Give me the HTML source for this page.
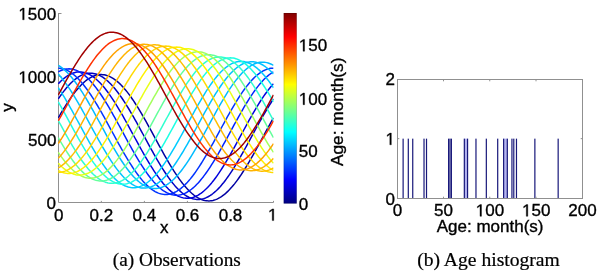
<!DOCTYPE html>
<html><head><meta charset="utf-8">
<style>
html,body{margin:0;padding:0;background:#fff;}
body{width:600px;height:273px;overflow:hidden;}
svg{display:block;will-change:transform;}
.t{font-family:"Liberation Sans",sans-serif;font-size:17px;fill:#000;stroke:#000;stroke-width:0.35px;}
.cap{font-family:"Liberation Serif",serif;font-size:18px;fill:#000;stroke:#000;stroke-width:0.2px;}
</style></head><body>
<svg width="600" height="273" viewBox="0 0 600 273">
<defs>
<linearGradient id="jet" x1="0" y1="0" x2="0" y2="1">
<stop offset="0.0000" stop-color="#800000"/>
<stop offset="0.0156" stop-color="#8f0000"/>
<stop offset="0.0312" stop-color="#9f0000"/>
<stop offset="0.0469" stop-color="#af0000"/>
<stop offset="0.0625" stop-color="#bf0000"/>
<stop offset="0.0781" stop-color="#cf0000"/>
<stop offset="0.0938" stop-color="#df0000"/>
<stop offset="0.1094" stop-color="#ef0000"/>
<stop offset="0.1250" stop-color="#ff0000"/>
<stop offset="0.1406" stop-color="#ff1000"/>
<stop offset="0.1562" stop-color="#ff2000"/>
<stop offset="0.1719" stop-color="#ff3000"/>
<stop offset="0.1875" stop-color="#ff4000"/>
<stop offset="0.2031" stop-color="#ff5000"/>
<stop offset="0.2188" stop-color="#ff6000"/>
<stop offset="0.2344" stop-color="#ff7000"/>
<stop offset="0.2500" stop-color="#ff8000"/>
<stop offset="0.2656" stop-color="#ff8f00"/>
<stop offset="0.2812" stop-color="#ff9f00"/>
<stop offset="0.2969" stop-color="#ffaf00"/>
<stop offset="0.3125" stop-color="#ffbf00"/>
<stop offset="0.3281" stop-color="#ffcf00"/>
<stop offset="0.3438" stop-color="#ffdf00"/>
<stop offset="0.3594" stop-color="#ffef00"/>
<stop offset="0.3750" stop-color="#ffff00"/>
<stop offset="0.3906" stop-color="#efff10"/>
<stop offset="0.4062" stop-color="#dfff20"/>
<stop offset="0.4219" stop-color="#cfff30"/>
<stop offset="0.4375" stop-color="#bfff40"/>
<stop offset="0.4531" stop-color="#afff50"/>
<stop offset="0.4688" stop-color="#9fff60"/>
<stop offset="0.4844" stop-color="#8fff70"/>
<stop offset="0.5000" stop-color="#80ff80"/>
<stop offset="0.5156" stop-color="#70ff8f"/>
<stop offset="0.5312" stop-color="#60ff9f"/>
<stop offset="0.5469" stop-color="#50ffaf"/>
<stop offset="0.5625" stop-color="#40ffbf"/>
<stop offset="0.5781" stop-color="#30ffcf"/>
<stop offset="0.5938" stop-color="#20ffdf"/>
<stop offset="0.6094" stop-color="#10ffef"/>
<stop offset="0.6250" stop-color="#00ffff"/>
<stop offset="0.6406" stop-color="#00efff"/>
<stop offset="0.6562" stop-color="#00dfff"/>
<stop offset="0.6719" stop-color="#00cfff"/>
<stop offset="0.6875" stop-color="#00bfff"/>
<stop offset="0.7031" stop-color="#00afff"/>
<stop offset="0.7188" stop-color="#009fff"/>
<stop offset="0.7344" stop-color="#008fff"/>
<stop offset="0.7500" stop-color="#0080ff"/>
<stop offset="0.7656" stop-color="#0070ff"/>
<stop offset="0.7812" stop-color="#0060ff"/>
<stop offset="0.7969" stop-color="#0050ff"/>
<stop offset="0.8125" stop-color="#0040ff"/>
<stop offset="0.8281" stop-color="#0030ff"/>
<stop offset="0.8438" stop-color="#0020ff"/>
<stop offset="0.8594" stop-color="#0010ff"/>
<stop offset="0.8750" stop-color="#0000ff"/>
<stop offset="0.8906" stop-color="#0000ef"/>
<stop offset="0.9062" stop-color="#0000df"/>
<stop offset="0.9219" stop-color="#0000cf"/>
<stop offset="0.9375" stop-color="#0000bf"/>
<stop offset="0.9531" stop-color="#0000af"/>
<stop offset="0.9688" stop-color="#00009f"/>
<stop offset="0.9844" stop-color="#00008f"/>
<stop offset="1.0000" stop-color="#000080"/>
</linearGradient>
<filter id="soft" x="-5%" y="-5%" width="110%" height="110%"><feGaussianBlur stdDeviation="0.35"/></filter>
<clipPath id="clipA"><rect x="58" y="0" width="215.6" height="210"/></clipPath>
</defs>
<rect width="600" height="273" fill="#fff"/>
<!-- left axes -->
<g stroke="#909090" stroke-width="1" fill="none">
<path d="M58.5,13 V202.5 H273.5"/>
<path d="M58.5,13.5 h3 M58.5,76.5 h3 M58.5,139.5 h3"/>
<path d="M101.34,202.5 v-1.6 M144.38,202.5 v-1.6 M187.42,202.5 v-1.6 M230.46,202.5 v-1.6 M273.5,202.5 v-1.6"/>
</g>
<!-- left plot curves -->
<g clip-path="url(#clipA)"><g fill="none" stroke-width="1.5" stroke-linejoin="round" filter="url(#soft)">
<polyline points="58.30,117.84 59.64,115.51 60.99,113.20 62.33,110.94 63.68,108.71 65.02,106.53 66.37,104.40 67.72,102.32 69.06,100.29 70.41,98.32 71.75,96.42 73.09,94.57 74.44,92.80 75.78,91.09 77.13,89.45 78.47,87.89 79.82,86.41 81.16,85.00 82.51,83.68 83.85,82.44 85.20,81.28 86.55,80.21 87.89,79.23 89.23,78.34 90.58,77.55 91.92,76.84 93.27,76.23 94.61,75.71 95.96,75.29 97.30,74.97 98.65,74.74 100.00,74.61 101.34,74.58 102.69,74.64 104.03,74.80 105.38,75.06 106.72,75.42 108.06,75.87 109.41,76.41 110.75,77.06 112.10,77.79 113.44,78.62 114.79,79.54 116.13,80.54 117.48,81.64 118.82,82.82 120.17,84.09 121.51,85.44 122.86,86.87 124.20,88.38 125.55,89.97 126.89,91.63 128.24,93.36 129.58,95.16 130.93,97.02 132.27,98.95 133.62,100.93 134.96,102.98 136.31,105.08 137.66,107.22 139.00,109.42 140.34,111.66 141.69,113.94 143.03,116.25 144.38,118.60 145.72,120.98 147.07,123.38 148.41,125.81 149.76,128.25 151.11,130.71 152.45,133.18 153.79,135.66 155.14,138.14 156.48,140.62 157.83,143.09 159.18,145.56 160.52,148.01 161.87,150.45 163.21,152.87 164.56,155.27 165.90,157.64 167.25,159.98 168.59,162.28 169.94,164.55 171.28,166.77 172.62,168.95 173.97,171.08 175.31,173.16 176.66,175.19 178.00,177.16 179.35,179.07 180.69,180.91 182.04,182.69 183.38,184.39 184.73,186.03 186.07,187.59 187.42,189.08 188.76,190.48 190.11,191.81 191.45,193.05 192.80,194.20 194.14,195.27 195.49,196.25 196.83,197.14 198.18,197.94 199.52,198.64 200.87,199.25 202.21,199.77 203.56,200.19 204.90,200.52 206.25,200.74 207.59,200.87 208.94,200.91 210.29,200.84 211.63,200.68 212.97,200.42 214.32,200.07 215.66,199.62 217.01,199.07 218.36,198.43 219.70,197.69 221.04,196.87 222.39,195.95 223.74,194.94 225.08,193.84 226.43,192.66 227.77,191.39 229.11,190.04 230.46,188.61 231.81,187.10 233.15,185.52 234.50,183.86 235.84,182.13 237.19,180.33 238.53,178.46 239.88,176.54 241.22,174.55 242.56,172.50 243.91,170.41 245.25,168.26 246.60,166.06 247.94,163.83 249.29,161.55 250.63,159.23 251.98,156.88 253.32,154.51 254.67,152.10 256.01,149.68 257.36,147.23 258.70,144.77 260.05,142.30 261.39,139.82 262.74,137.34 264.08,134.87 265.43,132.39 266.77,129.92 268.12,127.47 269.46,125.03 270.81,122.61 272.15,120.21 273.50,117.84" stroke="#0000a3"/>
<polyline points="58.30,98.88 59.64,96.91 60.99,95.00 62.33,93.16 63.68,91.38 65.02,89.67 66.37,88.04 67.72,86.48 69.06,84.99 70.41,83.59 71.75,82.26 73.09,81.02 74.44,79.87 75.78,78.80 77.13,77.82 78.47,76.93 79.82,76.13 81.16,75.42 82.51,74.81 83.85,74.30 85.20,73.88 86.55,73.55 87.89,73.32 89.23,73.19 90.58,73.16 91.92,73.23 93.27,73.39 94.61,73.65 95.96,74.00 97.30,74.45 98.65,75.00 100.00,75.64 101.34,76.38 102.69,77.20 104.03,78.12 105.38,79.13 106.72,80.23 108.06,81.41 109.41,82.68 110.75,84.03 112.10,85.46 113.44,86.97 114.79,88.55 116.13,90.21 117.48,91.94 118.82,93.74 120.17,95.61 121.51,97.53 122.86,99.52 124.20,101.56 125.55,103.66 126.89,105.81 128.24,108.00 129.58,110.24 130.93,112.52 132.27,114.84 133.62,117.18 134.96,119.56 136.31,121.97 137.66,124.39 139.00,126.84 140.34,129.30 141.69,131.77 143.03,134.24 144.38,136.72 145.72,139.20 147.07,141.68 148.41,144.15 149.76,146.60 151.11,149.04 152.45,151.46 153.79,153.85 155.14,156.22 156.48,158.56 157.83,160.87 159.18,163.13 160.52,165.36 161.87,167.54 163.21,169.67 164.56,171.75 165.90,173.78 167.25,175.74 168.59,177.65 169.94,179.49 171.28,181.27 172.62,182.98 173.97,184.62 175.31,186.18 176.66,187.66 178.00,189.07 179.35,190.39 180.69,191.63 182.04,192.79 183.38,193.86 184.73,194.84 186.07,195.73 187.42,196.52 188.76,197.23 190.11,197.84 191.45,198.36 192.80,198.78 194.14,199.10 195.49,199.33 196.83,199.46 198.18,199.49 199.52,199.43 200.87,199.27 202.21,199.01 203.56,198.65 204.90,198.20 206.25,197.65 207.59,197.01 208.94,196.28 210.29,195.45 211.63,194.53 212.97,193.52 214.32,192.43 215.66,191.24 217.01,189.98 218.36,188.63 219.70,187.20 221.04,185.69 222.39,184.10 223.74,182.44 225.08,180.71 226.43,178.91 227.77,177.05 229.11,175.12 230.46,173.13 231.81,171.09 233.15,168.99 234.50,166.84 235.84,164.65 237.19,162.41 238.53,160.13 239.88,157.82 241.22,155.47 242.56,153.09 243.91,150.69 245.25,148.26 246.60,145.82 247.94,143.36 249.29,140.89 250.63,138.41 251.98,135.93 253.32,133.45 254.67,130.98 256.01,128.51 257.36,126.05 258.70,123.61 260.05,121.20 261.39,118.80 262.74,116.43 264.08,114.09 265.43,111.79 266.77,109.52 268.12,107.30 269.46,105.12 270.81,102.98 272.15,100.90 273.50,98.88" stroke="#0000c3"/>
<polyline points="58.30,83.78 59.64,82.37 60.99,81.05 62.33,79.81 63.68,78.65 65.02,77.58 66.37,76.60 67.72,75.72 69.06,74.92 70.41,74.21 71.75,73.60 73.09,73.08 74.44,72.66 75.78,72.34 77.13,72.11 78.47,71.98 79.82,71.95 81.16,72.01 82.51,72.17 83.85,72.43 85.20,72.79 86.55,73.24 87.89,73.79 89.23,74.43 90.58,75.16 91.92,75.99 93.27,76.91 94.61,77.92 95.96,79.01 97.30,80.20 98.65,81.46 100.00,82.81 101.34,84.25 102.69,85.75 104.03,87.34 105.38,89.00 106.72,90.73 108.06,92.53 109.41,94.39 110.75,96.32 112.10,98.31 113.44,100.35 114.79,102.45 116.13,104.60 117.48,106.79 118.82,109.03 120.17,111.31 121.51,113.62 122.86,115.97 124.20,118.35 125.55,120.75 126.89,123.18 128.24,125.62 129.58,128.08 130.93,130.55 132.27,133.03 133.62,135.51 134.96,137.99 136.31,140.47 137.66,142.93 139.00,145.39 140.34,147.83 141.69,150.25 143.03,152.64 144.38,155.01 145.72,157.35 147.07,159.65 148.41,161.92 149.76,164.14 151.11,166.32 152.45,168.46 153.79,170.54 155.14,172.56 156.48,174.53 157.83,176.44 159.18,178.28 160.52,180.06 161.87,181.77 163.21,183.40 164.56,184.96 165.90,186.45 167.25,187.85 168.59,189.18 169.94,190.42 171.28,191.57 172.62,192.64 173.97,193.62 175.31,194.51 176.66,195.31 178.00,196.02 179.35,196.63 180.69,197.14 182.04,197.56 183.38,197.89 184.73,198.12 186.07,198.25 187.42,198.28 188.76,198.21 190.11,198.05 191.45,197.79 192.80,197.44 194.14,196.99 195.49,196.44 196.83,195.80 198.18,195.07 199.52,194.24 200.87,193.32 202.21,192.31 203.56,191.21 204.90,190.03 206.25,188.76 207.59,187.41 208.94,185.98 210.29,184.47 211.63,182.89 212.97,181.23 214.32,179.50 215.66,177.70 217.01,175.83 218.36,173.91 219.70,171.92 221.04,169.88 222.39,167.78 223.74,165.63 225.08,163.44 226.43,161.20 227.77,158.92 229.11,156.60 230.46,154.26 231.81,151.88 233.15,149.47 234.50,147.05 235.84,144.60 237.19,142.14 238.53,139.67 239.88,137.20 241.22,134.72 242.56,132.24 243.91,129.76 245.25,127.30 246.60,124.84 247.94,122.40 249.29,119.98 250.63,117.59 251.98,115.22 253.32,112.88 254.67,110.57 256.01,108.31 257.36,106.08 258.70,103.90 260.05,101.77 261.39,99.69 262.74,97.67 264.08,95.70 265.43,93.79 266.77,91.95 268.12,90.17 269.46,88.46 270.81,86.82 272.15,85.26 273.50,83.78" stroke="#0000de"/>
<polyline points="58.30,71.83 59.64,71.13 60.99,70.52 62.33,70.00 63.68,69.58 65.02,69.26 66.37,69.03 67.72,68.90 69.06,68.87 70.41,68.93 71.75,69.09 73.09,69.35 74.44,69.71 75.78,70.16 77.13,70.70 78.47,71.35 79.82,72.08 81.16,72.91 82.51,73.83 83.85,74.83 85.20,75.93 86.55,77.11 87.89,78.38 89.23,79.73 90.58,81.16 91.92,82.67 93.27,84.26 94.61,85.92 95.96,87.65 97.30,89.45 98.65,91.31 100.00,93.24 101.34,95.22 102.69,97.27 104.03,99.37 105.38,101.51 106.72,103.71 108.06,105.95 109.41,108.23 110.75,110.54 112.10,112.89 113.44,115.27 114.79,117.67 116.13,120.10 117.48,122.54 118.82,125.00 120.17,127.47 121.51,129.95 122.86,132.43 124.20,134.91 125.55,137.38 126.89,139.85 128.24,142.30 129.58,144.74 130.93,147.16 132.27,149.56 133.62,151.93 134.96,154.27 136.31,156.57 137.66,158.84 139.00,161.06 140.34,163.24 141.69,165.37 143.03,167.45 144.38,169.48 145.72,171.45 147.07,173.36 148.41,175.20 149.76,176.98 151.11,178.68 152.45,180.32 153.79,181.88 155.14,183.37 156.48,184.77 157.83,186.10 159.18,187.34 160.52,188.49 161.87,189.56 163.21,190.54 164.56,191.43 165.90,192.23 167.25,192.93 168.59,193.54 169.94,194.06 171.28,194.48 172.62,194.81 173.97,195.03 175.31,195.16 176.66,195.20 178.00,195.13 179.35,194.97 180.69,194.71 182.04,194.36 183.38,193.91 184.73,193.36 186.07,192.72 187.42,191.98 188.76,191.16 190.11,190.24 191.45,189.23 192.80,188.13 194.14,186.95 195.49,185.68 196.83,184.33 198.18,182.90 199.52,181.39 200.87,179.80 202.21,178.15 203.56,176.42 204.90,174.62 206.25,172.75 207.59,170.82 208.94,168.84 210.29,166.79 211.63,164.70 212.97,162.55 214.32,160.35 215.66,158.12 217.01,155.84 218.36,153.52 219.70,151.17 221.04,148.79 222.39,146.39 223.74,143.96 225.08,141.52 226.43,139.06 227.77,136.59 229.11,134.11 230.46,131.63 231.81,129.15 233.15,126.68 234.50,124.21 235.84,121.76 237.19,119.32 238.53,116.90 239.88,114.50 241.22,112.13 242.56,109.80 243.91,107.49 245.25,105.23 246.60,103.00 247.94,100.82 249.29,98.69 250.63,96.61 251.98,94.58 253.32,92.61 254.67,90.71 256.01,88.86 257.36,87.09 258.70,85.38 260.05,83.74 261.39,82.18 262.74,80.70 264.08,79.29 265.43,77.97 266.77,76.73 268.12,75.57 269.46,74.50 270.81,73.52 272.15,72.63 273.50,71.83" stroke="#0024ff"/>
<polyline points="58.30,68.18 59.64,68.25 60.99,68.41 62.33,68.67 63.68,69.02 65.02,69.47 66.37,70.02 67.72,70.66 69.06,71.40 70.41,72.23 71.75,73.14 73.09,74.15 74.44,75.25 75.78,76.43 77.13,77.70 78.47,79.05 79.82,80.48 81.16,81.99 82.51,83.58 83.85,85.23 85.20,86.97 86.55,88.76 87.89,90.63 89.23,92.56 90.58,94.54 91.92,96.59 93.27,98.68 94.61,100.83 95.96,103.03 97.30,105.26 98.65,107.54 100.00,109.86 101.34,112.21 102.69,114.59 104.03,116.99 105.38,119.42 106.72,121.86 108.06,124.32 109.41,126.79 110.75,129.27 112.10,131.75 113.44,134.23 114.79,136.70 116.13,139.17 117.48,141.62 118.82,144.06 120.17,146.48 121.51,148.88 122.86,151.25 124.20,153.58 125.55,155.89 126.89,158.15 128.24,160.38 129.58,162.56 130.93,164.69 132.27,166.77 133.62,168.80 134.96,170.77 136.31,172.67 137.66,174.52 139.00,176.29 140.34,178.00 141.69,179.64 143.03,181.20 144.38,182.68 145.72,184.09 147.07,185.41 148.41,186.65 149.76,187.81 151.11,188.88 152.45,189.86 153.79,190.75 155.14,191.55 156.48,192.25 157.83,192.86 159.18,193.38 160.52,193.80 161.87,194.12 163.21,194.35 164.56,194.48 165.90,194.51 167.25,194.45 168.59,194.29 169.94,194.03 171.28,193.67 172.62,193.22 173.97,192.68 175.31,192.04 176.66,191.30 178.00,190.47 179.35,189.55 180.69,188.55 182.04,187.45 183.38,186.27 184.73,185.00 186.07,183.65 187.42,182.22 188.76,180.71 190.11,179.12 191.45,177.46 192.80,175.73 194.14,173.93 195.49,172.07 196.83,170.14 198.18,168.16 199.52,166.11 200.87,164.01 202.21,161.87 203.56,159.67 204.90,157.43 206.25,155.15 207.59,152.84 208.94,150.49 210.29,148.11 211.63,145.71 212.97,143.28 214.32,140.84 215.66,138.38 217.01,135.91 218.36,133.43 219.70,130.95 221.04,128.47 222.39,126.00 223.74,123.53 225.08,121.08 226.43,118.64 227.77,116.22 229.11,113.82 230.46,111.45 231.81,109.11 233.15,106.81 234.50,104.54 235.84,102.32 237.19,100.14 238.53,98.01 239.88,95.93 241.22,93.90 242.56,91.93 243.91,90.02 245.25,88.18 246.60,86.40 247.94,84.70 249.29,83.06 250.63,81.50 251.98,80.01 253.32,78.61 254.67,77.28 256.01,76.04 257.36,74.89 258.70,73.82 260.05,72.84 261.39,71.95 262.74,71.15 264.08,70.45 265.43,69.84 266.77,69.32 268.12,68.90 269.46,68.57 270.81,68.35 272.15,68.22 273.50,68.18" stroke="#0034ff"/>
<polyline points="58.30,65.36 59.64,66.19 60.99,67.10 62.33,68.11 63.68,69.21 65.02,70.39 66.37,71.66 67.72,73.01 69.06,74.44 70.41,75.95 71.75,77.54 73.09,79.20 74.44,80.93 75.78,82.73 77.13,84.59 78.47,86.52 79.82,88.50 81.16,90.55 82.51,92.64 83.85,94.79 85.20,96.99 86.55,99.23 87.89,101.50 89.23,103.82 90.58,106.17 91.92,108.55 93.27,110.95 94.61,113.38 95.96,115.82 97.30,118.28 98.65,120.75 100.00,123.23 101.34,125.71 102.69,128.19 104.03,130.66 105.38,133.13 106.72,135.58 108.06,138.02 109.41,140.44 110.75,142.84 112.10,145.21 113.44,147.55 114.79,149.85 116.13,152.12 117.48,154.34 118.82,156.52 120.17,158.65 121.51,160.73 122.86,162.76 124.20,164.73 125.55,166.63 126.89,168.48 128.24,170.26 129.58,171.96 130.93,173.60 132.27,175.16 133.62,176.65 134.96,178.05 136.31,179.38 137.66,180.62 139.00,181.77 140.34,182.84 141.69,183.82 143.03,184.71 144.38,185.51 145.72,186.21 147.07,186.82 148.41,187.34 149.76,187.76 151.11,188.08 152.45,188.31 153.79,188.44 155.14,188.48 156.48,188.41 157.83,188.25 159.18,187.99 160.52,187.64 161.87,187.18 163.21,186.64 164.56,186.00 165.90,185.26 167.25,184.43 168.59,183.52 169.94,182.51 171.28,181.41 172.62,180.23 173.97,178.96 175.31,177.61 176.66,176.18 178.00,174.67 179.35,173.08 180.69,171.42 182.04,169.69 183.38,167.90 184.73,166.03 186.07,164.10 187.42,162.12 188.76,160.07 190.11,157.98 191.45,155.83 192.80,153.63 194.14,151.39 195.49,149.12 196.83,146.80 198.18,144.45 199.52,142.07 200.87,139.67 202.21,137.24 203.56,134.80 204.90,132.34 206.25,129.87 207.59,127.39 208.94,124.91 210.29,122.43 211.63,119.96 212.97,117.49 214.32,115.04 215.66,112.60 217.01,110.18 218.36,107.78 219.70,105.41 221.04,103.08 222.39,100.77 223.74,98.51 225.08,96.28 226.43,94.10 227.77,91.97 229.11,89.89 230.46,87.86 231.81,85.89 233.15,83.99 234.50,82.14 235.84,80.36 237.19,78.66 238.53,77.02 239.88,75.46 241.22,73.98 242.56,72.57 243.91,71.25 245.25,70.00 246.60,68.85 247.94,67.78 249.29,66.80 250.63,65.91 251.98,65.11 253.32,64.41 254.67,63.80 256.01,63.28 257.36,62.86 258.70,62.54 260.05,62.31 261.39,62.18 262.74,62.14 264.08,62.21 265.43,62.37 266.77,62.63 268.12,62.98 269.46,63.44 270.81,63.98 272.15,64.62 273.50,65.36" stroke="#00bbff"/>
<polyline points="58.30,74.06 59.64,75.57 60.99,77.16 62.33,78.82 63.68,80.55 65.02,82.35 66.37,84.21 67.72,86.14 69.06,88.12 70.41,90.17 71.75,92.27 73.09,94.41 74.44,96.61 75.78,98.85 77.13,101.13 78.47,103.44 79.82,105.79 81.16,108.17 82.51,110.57 83.85,113.00 85.20,115.44 86.55,117.90 87.89,120.37 89.23,122.85 90.58,125.33 91.92,127.81 93.27,130.28 94.61,132.75 95.96,135.20 97.30,137.64 98.65,140.06 100.00,142.46 101.34,144.83 102.69,147.17 104.03,149.47 105.38,151.74 106.72,153.96 108.06,156.14 109.41,158.27 110.75,160.35 112.10,162.38 113.44,164.35 114.79,166.26 116.13,168.10 117.48,169.88 118.82,171.58 120.17,173.22 121.51,174.78 122.86,176.27 124.20,177.67 125.55,179.00 126.89,180.24 128.24,181.39 129.58,182.46 130.93,183.44 132.27,184.33 133.62,185.13 134.96,185.83 136.31,186.44 137.66,186.96 139.00,187.38 140.34,187.71 141.69,187.93 143.03,188.06 144.38,188.10 145.72,188.03 147.07,187.87 148.41,187.61 149.76,187.26 151.11,186.81 152.45,186.26 153.79,185.62 155.14,184.88 156.48,184.06 157.83,183.14 159.18,182.13 160.52,181.03 161.87,179.85 163.21,178.58 164.56,177.23 165.90,175.80 167.25,174.29 168.59,172.70 169.94,171.05 171.28,169.32 172.62,167.52 173.97,165.65 175.31,163.72 176.66,161.74 178.00,159.69 179.35,157.60 180.69,155.45 182.04,153.25 183.38,151.02 184.73,148.74 186.07,146.42 187.42,144.07 188.76,141.69 190.11,139.29 191.45,136.87 192.80,134.42 194.14,131.96 195.49,129.49 196.83,127.01 198.18,124.53 199.52,122.05 200.87,119.58 202.21,117.11 203.56,114.66 204.90,112.22 206.25,109.80 207.59,107.40 208.94,105.03 210.29,102.70 211.63,100.39 212.97,98.13 214.32,95.90 215.66,93.72 217.01,91.59 218.36,89.51 219.70,87.48 221.04,85.51 222.39,83.61 223.74,81.76 225.08,79.99 226.43,78.28 227.77,76.64 229.11,75.08 230.46,73.60 231.81,72.19 233.15,70.87 234.50,69.63 235.84,68.47 237.19,67.40 238.53,66.42 239.88,65.53 241.22,64.73 242.56,64.03 243.91,63.42 245.25,62.90 246.60,62.48 247.94,62.16 249.29,61.93 250.63,61.80 251.98,61.77 253.32,61.83 254.67,61.99 256.01,62.25 257.36,62.61 258.70,63.06 260.05,63.60 261.39,64.25 262.74,64.98 264.08,65.81 265.43,66.73 266.77,67.73 268.12,68.83 269.46,70.01 270.81,71.28 272.15,72.63 273.50,74.06" stroke="#00c3ff"/>
<polyline points="58.30,87.75 59.64,89.79 60.99,91.89 62.33,94.03 63.68,96.23 65.02,98.47 66.37,100.75 67.72,103.06 69.06,105.41 70.41,107.79 71.75,110.19 73.09,112.62 74.44,115.06 75.78,117.52 77.13,119.99 78.47,122.47 79.82,124.95 81.16,127.43 82.51,129.90 83.85,132.37 85.20,134.83 86.55,137.26 87.89,139.68 89.23,142.08 90.58,144.45 91.92,146.79 93.27,149.09 94.61,151.36 95.96,153.58 97.30,155.76 98.65,157.89 100.00,159.98 101.34,162.00 102.69,163.97 104.03,165.88 105.38,167.72 106.72,169.50 108.06,171.21 109.41,172.84 110.75,174.40 112.10,175.89 113.44,177.29 114.79,178.62 116.13,179.86 117.48,181.01 118.82,182.08 120.17,183.06 121.51,183.95 122.86,184.75 124.20,185.45 125.55,186.07 126.89,186.58 128.24,187.00 129.58,187.33 130.93,187.55 132.27,187.68 133.62,187.72 134.96,187.65 136.31,187.49 137.66,187.23 139.00,186.88 140.34,186.43 141.69,185.88 143.03,185.24 144.38,184.50 145.72,183.68 147.07,182.76 148.41,181.75 149.76,180.65 151.11,179.47 152.45,178.20 153.79,176.85 155.14,175.42 156.48,173.91 157.83,172.33 159.18,170.67 160.52,168.94 161.87,167.14 163.21,165.27 164.56,163.35 165.90,161.36 167.25,159.32 168.59,157.22 169.94,155.07 171.28,152.88 172.62,150.64 173.97,148.36 175.31,146.04 176.66,143.69 178.00,141.32 179.35,138.91 180.69,136.49 182.04,134.04 183.38,131.58 184.73,129.11 186.07,126.64 187.42,124.16 188.76,121.68 190.11,119.20 191.45,116.73 192.80,114.28 194.14,111.84 195.49,109.42 196.83,107.02 198.18,104.66 199.52,102.32 200.87,100.01 202.21,97.75 203.56,95.52 204.90,93.34 206.25,91.21 207.59,89.13 208.94,87.10 210.29,85.14 211.63,83.23 212.97,81.38 214.32,79.61 215.66,77.90 217.01,76.26 218.36,74.70 219.70,73.22 221.04,71.81 222.39,70.49 223.74,69.25 225.08,68.09 226.43,67.02 227.77,66.04 229.11,65.15 230.46,64.36 231.81,63.65 233.15,63.04 234.50,62.52 235.84,62.10 237.19,61.78 238.53,61.55 239.88,61.42 241.22,61.39 242.56,61.45 243.91,61.61 245.25,61.87 246.60,62.23 247.94,62.68 249.29,63.22 250.63,63.87 251.98,64.60 253.32,65.43 254.67,66.35 256.01,67.36 257.36,68.45 258.70,69.63 260.05,70.90 261.39,72.25 262.74,73.68 264.08,75.19 265.43,76.78 266.77,78.44 268.12,80.17 269.46,81.97 270.81,83.83 272.15,85.76 273.50,87.75" stroke="#00ccff"/>
<polyline points="58.30,101.87 59.64,104.25 60.99,106.66 62.33,109.08 63.68,111.53 65.02,113.98 66.37,116.45 67.72,118.93 69.06,121.41 70.41,123.89 71.75,126.37 73.09,128.83 74.44,131.29 75.78,133.73 77.13,136.15 78.47,138.54 79.82,140.91 81.16,143.25 82.51,145.55 83.85,147.82 85.20,150.05 86.55,152.23 87.89,154.36 89.23,156.44 90.58,158.46 91.92,160.43 93.27,162.34 94.61,164.18 95.96,165.96 97.30,167.67 98.65,169.30 100.00,170.87 101.34,172.35 102.69,173.76 104.03,175.08 105.38,176.32 106.72,177.48 108.06,178.54 109.41,179.52 110.75,180.41 112.10,181.21 113.44,181.92 114.79,182.53 116.13,183.04 117.48,183.46 118.82,183.79 120.17,184.02 121.51,184.15 122.86,184.18 124.20,184.12 125.55,183.95 126.89,183.70 128.24,183.34 129.58,182.89 130.93,182.34 132.27,181.70 133.62,180.97 134.96,180.14 136.31,179.22 137.66,178.21 139.00,177.12 140.34,175.93 141.69,174.67 143.03,173.31 144.38,171.88 145.72,170.37 147.07,168.79 148.41,167.13 149.76,165.40 151.11,163.60 152.45,161.74 153.79,159.81 155.14,157.82 156.48,155.78 157.83,153.68 159.18,151.53 160.52,149.34 161.87,147.10 163.21,144.82 164.56,142.51 165.90,140.16 167.25,137.78 168.59,135.37 169.94,132.95 171.28,130.50 172.62,128.05 173.97,125.58 175.31,123.10 176.66,120.62 178.00,118.14 179.35,115.66 180.69,113.20 182.04,110.74 183.38,108.30 184.73,105.88 186.07,103.49 187.42,101.12 188.76,98.78 190.11,96.48 191.45,94.21 192.80,91.98 194.14,89.80 195.49,87.67 196.83,85.59 198.18,83.57 199.52,81.60 200.87,79.69 202.21,77.85 203.56,76.07 204.90,74.36 206.25,72.73 207.59,71.16 208.94,69.68 210.29,68.27 211.63,66.95 212.97,65.71 214.32,64.55 215.66,63.49 217.01,62.51 218.36,61.62 219.70,60.82 221.04,60.11 222.39,59.50 223.74,58.99 225.08,58.57 226.43,58.24 227.77,58.01 229.11,57.88 230.46,57.85 231.81,57.91 233.15,58.08 234.50,58.33 235.84,58.69 237.19,59.14 238.53,59.69 239.88,60.33 241.22,61.06 242.56,61.89 243.91,62.81 245.25,63.82 246.60,64.91 247.94,66.10 249.29,67.36 250.63,68.72 251.98,70.15 253.32,71.66 254.67,73.24 256.01,74.90 257.36,76.63 258.70,78.43 260.05,80.29 261.39,82.22 262.74,84.21 264.08,86.25 265.43,88.35 266.77,90.50 268.12,92.69 269.46,94.93 270.81,97.21 272.15,99.52 273.50,101.87" stroke="#1cffe3"/>
<polyline points="58.30,120.53 59.64,123.01 60.99,125.48 62.33,127.95 63.68,130.40 65.02,132.84 66.37,135.26 67.72,137.66 69.06,140.03 70.41,142.37 71.75,144.67 73.09,146.94 74.44,149.16 75.78,151.34 77.13,153.47 78.47,155.55 79.82,157.58 81.16,159.55 82.51,161.46 83.85,163.30 85.20,165.08 86.55,166.78 87.89,168.42 89.23,169.98 90.58,171.47 91.92,172.87 93.27,174.20 94.61,175.44 95.96,176.59 97.30,177.66 98.65,178.64 100.00,179.53 101.34,180.33 102.69,181.03 104.03,181.64 105.38,182.16 106.72,182.58 108.06,182.90 109.41,183.13 110.75,183.26 112.10,183.30 113.44,183.23 114.79,183.07 116.13,182.81 117.48,182.46 118.82,182.00 120.17,181.46 121.51,180.82 122.86,180.08 124.20,179.25 125.55,178.34 126.89,177.33 128.24,176.23 129.58,175.05 130.93,173.78 132.27,172.43 133.62,171.00 134.96,169.49 136.31,167.90 137.66,166.25 139.00,164.51 140.34,162.72 141.69,160.85 143.03,158.92 144.38,156.94 145.72,154.89 147.07,152.80 148.41,150.65 149.76,148.45 151.11,146.22 152.45,143.94 153.79,141.62 155.14,139.27 156.48,136.89 157.83,134.49 159.18,132.06 160.52,129.62 161.87,127.16 163.21,124.69 164.56,122.21 165.90,119.73 167.25,117.25 168.59,114.78 169.94,112.31 171.28,109.86 172.62,107.42 173.97,105.00 175.31,102.60 176.66,100.23 178.00,97.90 179.35,95.59 180.69,93.33 182.04,91.10 183.38,88.92 184.73,86.79 186.07,84.71 187.42,82.68 188.76,80.71 190.11,78.81 191.45,76.96 192.80,75.19 194.14,73.48 195.49,71.84 196.83,70.28 198.18,68.80 199.52,67.39 200.87,66.07 202.21,64.83 203.56,63.67 204.90,62.60 206.25,61.62 207.59,60.73 208.94,59.93 210.29,59.23 211.63,58.62 212.97,58.10 214.32,57.68 215.66,57.36 217.01,57.13 218.36,57.00 219.70,56.97 221.04,57.03 222.39,57.19 223.74,57.45 225.08,57.81 226.43,58.26 227.77,58.80 229.11,59.44 230.46,60.18 231.81,61.01 233.15,61.93 234.50,62.93 235.84,64.03 237.19,65.21 238.53,66.48 239.88,67.83 241.22,69.26 242.56,70.77 243.91,72.36 245.25,74.02 246.60,75.75 247.94,77.55 249.29,79.41 250.63,81.34 251.98,83.32 253.32,85.37 254.67,87.47 256.01,89.61 257.36,91.81 258.70,94.05 260.05,96.32 261.39,98.64 262.74,100.99 264.08,103.37 265.43,105.77 266.77,108.20 268.12,110.64 269.46,113.10 270.81,115.57 272.15,118.05 273.50,120.53" stroke="#30ffcf"/>
<polyline points="58.30,137.73 59.64,140.07 60.99,142.37 62.33,144.64 63.68,146.86 65.02,149.04 66.37,151.17 67.72,153.25 69.06,155.28 70.41,157.25 71.75,159.16 73.09,161.00 74.44,162.78 75.78,164.48 77.13,166.12 78.47,167.68 79.82,169.17 81.16,170.57 82.51,171.90 83.85,173.14 85.20,174.29 86.55,175.36 87.89,176.34 89.23,177.23 90.58,178.03 91.92,178.73 93.27,179.34 94.61,179.86 95.96,180.28 97.30,180.61 98.65,180.83 100.00,180.96 101.34,181.00 102.69,180.93 104.03,180.77 105.38,180.51 106.72,180.16 108.06,179.71 109.41,179.16 110.75,178.52 112.10,177.78 113.44,176.96 114.79,176.04 116.13,175.03 117.48,173.93 118.82,172.75 120.17,171.48 121.51,170.13 122.86,168.70 124.20,167.19 125.55,165.61 126.89,163.95 128.24,162.22 129.58,160.42 130.93,158.55 132.27,156.63 133.62,154.64 134.96,152.59 136.31,150.50 137.66,148.35 139.00,146.15 140.34,143.92 141.69,141.64 143.03,139.32 144.38,136.97 145.72,134.60 147.07,132.19 148.41,129.77 149.76,127.32 151.11,124.86 152.45,122.39 153.79,119.91 155.14,117.43 156.48,114.95 157.83,112.48 159.18,110.01 160.52,107.56 161.87,105.12 163.21,102.70 164.56,100.30 165.90,97.93 167.25,95.60 168.59,93.29 169.94,91.03 171.28,88.80 172.62,86.62 173.97,84.49 175.31,82.41 176.66,80.38 178.00,78.41 179.35,76.51 180.69,74.66 182.04,72.89 183.38,71.18 184.73,69.54 186.07,67.98 187.42,66.50 188.76,65.09 190.11,63.77 191.45,62.53 192.80,61.37 194.14,60.30 195.49,59.32 196.83,58.43 198.18,57.63 199.52,56.93 200.87,56.32 202.21,55.80 203.56,55.38 204.90,55.06 206.25,54.83 207.59,54.70 208.94,54.67 210.29,54.73 211.63,54.89 212.97,55.15 214.32,55.51 215.66,55.96 217.01,56.50 218.36,57.15 219.70,57.88 221.04,58.71 222.39,59.63 223.74,60.63 225.08,61.73 226.43,62.91 227.77,64.18 229.11,65.53 230.46,66.96 231.81,68.47 233.15,70.06 234.50,71.72 235.84,73.45 237.19,75.25 238.53,77.11 239.88,79.04 241.22,81.02 242.56,83.07 243.91,85.17 245.25,87.31 246.60,89.51 247.94,91.75 249.29,94.03 250.63,96.34 251.98,98.69 253.32,101.07 254.67,103.47 256.01,105.90 257.36,108.34 258.70,110.80 260.05,113.27 261.39,115.75 262.74,118.23 264.08,120.71 265.43,123.18 266.77,125.65 268.12,128.10 269.46,130.54 270.81,132.96 272.15,135.36 273.50,137.73" stroke="#64ff9b"/>
<polyline points="58.30,152.45 59.64,154.42 60.99,156.33 62.33,158.17 63.68,159.95 65.02,161.65 66.37,163.29 67.72,164.85 69.06,166.34 70.41,167.74 71.75,169.07 73.09,170.31 74.44,171.46 75.78,172.53 77.13,173.51 78.47,174.40 79.82,175.20 81.16,175.90 82.51,176.51 83.85,177.03 85.20,177.45 86.55,177.78 87.89,178.00 89.23,178.13 90.58,178.17 91.92,178.10 93.27,177.94 94.61,177.68 95.96,177.33 97.30,176.88 98.65,176.33 100.00,175.69 101.34,174.95 102.69,174.13 104.03,173.21 105.38,172.20 106.72,171.10 108.06,169.92 109.41,168.65 110.75,167.30 112.10,165.87 113.44,164.36 114.79,162.78 116.13,161.12 117.48,159.39 118.82,157.59 120.17,155.72 121.51,153.80 122.86,151.81 124.20,149.76 125.55,147.67 126.89,145.52 128.24,143.32 129.58,141.09 130.93,138.81 132.27,136.49 133.62,134.14 134.96,131.77 136.31,129.36 137.66,126.94 139.00,124.49 140.34,122.03 141.69,119.56 143.03,117.08 144.38,114.60 145.72,112.13 147.07,109.65 148.41,107.18 149.76,104.73 151.11,102.29 152.45,99.87 153.79,97.47 155.14,95.10 156.48,92.77 157.83,90.46 159.18,88.20 160.52,85.97 161.87,83.79 163.21,81.66 164.56,79.58 165.90,77.55 167.25,75.58 168.59,73.68 169.94,71.83 171.28,70.06 172.62,68.35 173.97,66.71 175.31,65.15 176.66,63.67 178.00,62.26 179.35,60.94 180.69,59.70 182.04,58.54 183.38,57.47 184.73,56.49 186.07,55.60 187.42,54.81 188.76,54.10 190.11,53.49 191.45,52.97 192.80,52.55 194.14,52.23 195.49,52.00 196.83,51.87 198.18,51.84 199.52,51.90 200.87,52.06 202.21,52.32 203.56,52.68 204.90,53.13 206.25,53.67 207.59,54.32 208.94,55.05 210.29,55.88 211.63,56.80 212.97,57.80 214.32,58.90 215.66,60.08 217.01,61.35 218.36,62.70 219.70,64.13 221.04,65.64 222.39,67.23 223.74,68.89 225.08,70.62 226.43,72.42 227.77,74.28 229.11,76.21 230.46,78.19 231.81,80.24 233.15,82.34 234.50,84.48 235.84,86.68 237.19,88.92 238.53,91.20 239.88,93.51 241.22,95.86 242.56,98.24 243.91,100.64 245.25,103.07 246.60,105.51 247.94,107.97 249.29,110.44 250.63,112.92 251.98,115.40 253.32,117.88 254.67,120.35 256.01,122.82 257.36,125.27 258.70,127.71 260.05,130.13 261.39,132.53 262.74,134.90 264.08,137.24 265.43,139.54 266.77,141.81 268.12,144.03 269.46,146.21 270.81,148.34 272.15,150.42 273.50,152.45" stroke="#a3ff5c"/>
<polyline points="58.30,163.23 59.64,164.63 60.99,165.96 62.33,167.20 63.68,168.35 65.02,169.42 66.37,170.40 67.72,171.29 69.06,172.09 70.41,172.80 71.75,173.41 73.09,173.92 74.44,174.34 75.78,174.67 77.13,174.90 78.47,175.03 79.82,175.06 81.16,174.99 82.51,174.83 83.85,174.57 85.20,174.22 86.55,173.77 87.89,173.22 89.23,172.58 90.58,171.84 91.92,171.02 93.27,170.10 94.61,169.09 95.96,167.99 97.30,166.81 98.65,165.54 100.00,164.19 101.34,162.76 102.69,161.25 104.03,159.67 105.38,158.01 106.72,156.28 108.06,154.48 109.41,152.61 110.75,150.69 112.10,148.70 113.44,146.66 114.79,144.56 116.13,142.41 117.48,140.22 118.82,137.98 120.17,135.70 121.51,133.38 122.86,131.04 124.20,128.66 125.55,126.25 126.89,123.83 128.24,121.38 129.58,118.92 130.93,116.45 132.27,113.98 133.62,111.50 134.96,109.02 136.31,106.54 137.66,104.08 139.00,101.62 140.34,99.18 141.69,96.76 143.03,94.37 144.38,92.00 145.72,89.66 147.07,87.35 148.41,85.09 149.76,82.86 151.11,80.68 152.45,78.55 153.79,76.47 155.14,74.44 156.48,72.48 157.83,70.57 159.18,68.73 160.52,66.95 161.87,65.24 163.21,63.60 164.56,62.04 165.90,60.56 167.25,59.15 168.59,57.83 169.94,56.59 171.28,55.43 172.62,54.36 173.97,53.38 175.31,52.50 176.66,51.70 178.00,50.99 179.35,50.38 180.69,49.86 182.04,49.44 183.38,49.12 184.73,48.89 186.07,48.76 187.42,48.73 188.76,48.79 190.11,48.95 191.45,49.21 192.80,49.57 194.14,50.02 195.49,50.57 196.83,51.21 198.18,51.94 199.52,52.77 200.87,53.69 202.21,54.70 203.56,55.79 204.90,56.98 206.25,58.24 207.59,59.59 208.94,61.03 210.29,62.53 211.63,64.12 212.97,65.78 214.32,67.51 215.66,69.31 217.01,71.17 218.36,73.10 219.70,75.09 221.04,77.13 222.39,79.23 223.74,81.38 225.08,83.57 226.43,85.81 227.77,88.09 229.11,90.40 230.46,92.75 231.81,95.13 233.15,97.53 234.50,99.96 235.84,102.40 237.19,104.86 238.53,107.33 239.88,109.81 241.22,112.29 242.56,114.77 243.91,117.25 245.25,119.71 246.60,122.17 247.94,124.61 249.29,127.03 250.63,129.42 251.98,131.79 253.32,134.13 254.67,136.43 256.01,138.70 257.36,140.92 258.70,143.10 260.05,145.24 261.39,147.32 262.74,149.34 264.08,151.31 265.43,153.22 266.77,155.06 268.12,156.84 269.46,158.55 270.81,160.18 272.15,161.74 273.50,163.23" stroke="#e9ff16"/>
<polyline points="58.30,170.47 59.64,171.18 60.99,171.79 62.33,172.31 63.68,172.73 65.02,173.05 66.37,173.28 67.72,173.41 69.06,173.44 70.41,173.38 71.75,173.22 73.09,172.96 74.44,172.60 75.78,172.15 77.13,171.60 78.47,170.96 79.82,170.23 81.16,169.40 82.51,168.48 83.85,167.47 85.20,166.38 86.55,165.19 87.89,163.93 89.23,162.58 90.58,161.15 91.92,159.64 93.27,158.05 94.61,156.39 95.96,154.66 97.30,152.86 98.65,151.00 100.00,149.07 101.34,147.08 102.69,145.04 104.03,142.94 105.38,140.79 106.72,138.60 108.06,136.36 109.41,134.08 110.75,131.77 112.10,129.42 113.44,127.04 114.79,124.64 116.13,122.21 117.48,119.77 118.82,117.31 120.17,114.84 121.51,112.36 122.86,109.88 124.20,107.40 125.55,104.93 126.89,102.46 128.24,100.00 129.58,97.56 130.93,95.15 132.27,92.75 133.62,90.38 134.96,88.04 136.31,85.74 137.66,83.47 139.00,81.25 140.34,79.07 141.69,76.93 143.03,74.85 144.38,72.83 145.72,70.86 147.07,68.95 148.41,67.11 149.76,65.33 151.11,63.62 152.45,61.99 153.79,60.43 155.14,58.94 156.48,57.54 157.83,56.21 159.18,54.97 160.52,53.82 161.87,52.75 163.21,51.77 164.56,50.88 165.90,50.08 167.25,49.38 168.59,48.76 169.94,48.25 171.28,47.83 172.62,47.50 173.97,47.27 175.31,47.14 176.66,47.11 178.00,47.18 179.35,47.34 180.69,47.60 182.04,47.95 183.38,48.40 184.73,48.95 186.07,49.59 187.42,50.33 188.76,51.15 190.11,52.07 191.45,53.08 192.80,54.18 194.14,55.36 195.49,56.63 196.83,57.98 198.18,59.41 199.52,60.92 200.87,62.50 202.21,64.16 203.56,65.89 204.90,67.69 206.25,69.56 207.59,71.48 208.94,73.47 210.29,75.51 211.63,77.61 212.97,79.76 214.32,81.95 215.66,84.19 217.01,86.47 218.36,88.79 219.70,91.13 221.04,93.51 222.39,95.92 223.74,98.34 225.08,100.79 226.43,103.25 227.77,105.72 229.11,108.19 230.46,110.67 231.81,113.15 233.15,115.63 234.50,118.10 235.84,120.55 237.19,122.99 238.53,125.41 239.88,127.80 241.22,130.17 242.56,132.51 243.91,134.82 245.25,137.08 246.60,139.31 247.94,141.49 249.29,143.62 250.63,145.70 251.98,147.73 253.32,149.69 254.67,151.60 256.01,153.44 257.36,155.22 258.70,156.93 260.05,158.57 261.39,160.13 262.74,161.61 264.08,163.02 265.43,164.34 266.77,165.58 268.12,166.74 269.46,167.81 270.81,168.79 272.15,169.68 273.50,170.47" stroke="#fff100"/>
<polyline points="58.30,172.43 59.64,172.37 60.99,172.21 62.33,171.95 63.68,171.59 65.02,171.14 66.37,170.59 67.72,169.95 69.06,169.22 70.41,168.39 71.75,167.47 73.09,166.46 74.44,165.37 75.78,164.18 77.13,162.92 78.47,161.57 79.82,160.13 81.16,158.63 82.51,157.04 83.85,155.38 85.20,153.65 86.55,151.85 87.89,149.99 89.23,148.06 90.58,146.07 91.92,144.03 93.27,141.93 94.61,139.78 95.96,137.59 97.30,135.35 98.65,133.07 100.00,130.76 101.34,128.41 102.69,126.03 104.03,123.63 105.38,121.20 106.72,118.76 108.06,116.30 109.41,113.83 110.75,111.35 112.10,108.87 113.44,106.39 114.79,103.91 116.13,101.45 117.48,98.99 118.82,96.55 120.17,94.13 121.51,91.74 122.86,89.37 124.20,87.03 125.55,84.73 126.89,82.46 128.24,80.24 129.58,78.06 130.93,75.92 132.27,73.84 133.62,71.82 134.96,69.85 136.31,67.94 137.66,66.10 139.00,64.32 140.34,62.61 141.69,60.98 143.03,59.42 144.38,57.93 145.72,56.53 147.07,55.20 148.41,53.96 149.76,52.81 151.11,51.74 152.45,50.76 153.79,49.87 155.14,49.07 156.48,48.36 157.83,47.75 159.18,47.24 160.52,46.82 161.87,46.49 163.21,46.26 164.56,46.13 165.90,46.10 167.25,46.16 168.59,46.33 169.94,46.59 171.28,46.94 172.62,47.39 173.97,47.94 175.31,48.58 176.66,49.31 178.00,50.14 179.35,51.06 180.69,52.07 182.04,53.17 183.38,54.35 184.73,55.62 186.07,56.97 187.42,58.40 188.76,59.91 190.11,61.49 191.45,63.15 192.80,64.88 194.14,66.68 195.49,68.55 196.83,70.47 198.18,72.46 199.52,74.50 200.87,76.60 202.21,78.75 203.56,80.94 204.90,83.18 206.25,85.46 207.59,87.78 208.94,90.12 210.29,92.50 211.63,94.91 212.97,97.33 214.32,99.78 215.66,102.24 217.01,104.71 218.36,107.18 219.70,109.66 221.04,112.14 222.39,114.62 223.74,117.08 225.08,119.54 226.43,121.98 227.77,124.40 229.11,126.79 230.46,129.16 231.81,131.50 233.15,133.81 234.50,136.07 235.84,138.30 237.19,140.48 238.53,142.61 239.88,144.69 241.22,146.71 242.56,148.68 243.91,150.59 245.25,152.43 246.60,154.21 247.94,155.92 249.29,157.56 250.63,159.12 251.98,160.60 253.32,162.01 254.67,163.33 256.01,164.57 257.36,165.73 258.70,166.80 260.05,167.78 261.39,168.66 262.74,169.46 264.08,170.17 265.43,170.78 266.77,171.30 268.12,171.72 269.46,172.04 270.81,172.27 272.15,172.40 273.50,172.43" stroke="#ffda00"/>
<polyline points="58.30,167.95 59.64,167.13 60.99,166.21 62.33,165.20 63.68,164.10 65.02,162.92 66.37,161.65 67.72,160.30 69.06,158.87 70.41,157.36 71.75,155.78 73.09,154.12 74.44,152.39 75.78,150.59 77.13,148.72 78.47,146.80 79.82,144.81 81.16,142.77 82.51,140.67 83.85,138.52 85.20,136.33 86.55,134.09 87.89,131.81 89.23,129.49 90.58,127.14 91.92,124.77 93.27,122.36 94.61,119.94 95.96,117.49 97.30,115.03 98.65,112.56 100.00,110.09 101.34,107.61 102.69,105.13 104.03,102.65 105.38,100.18 106.72,97.73 108.06,95.29 109.41,92.87 110.75,90.48 112.10,88.11 113.44,85.77 114.79,83.46 116.13,81.20 117.48,78.97 118.82,76.79 120.17,74.66 121.51,72.58 122.86,70.55 124.20,68.59 125.55,66.68 126.89,64.83 128.24,63.06 129.58,61.35 130.93,59.71 132.27,58.15 133.62,56.67 134.96,55.26 136.31,53.94 137.66,52.70 139.00,51.54 140.34,50.47 141.69,49.49 143.03,48.60 144.38,47.81 145.72,47.10 147.07,46.49 148.41,45.97 149.76,45.55 151.11,45.23 152.45,45.00 153.79,44.87 155.14,44.84 156.48,44.90 157.83,45.06 159.18,45.32 160.52,45.68 161.87,46.13 163.21,46.68 164.56,47.32 165.90,48.05 167.25,48.88 168.59,49.80 169.94,50.81 171.28,51.90 172.62,53.09 173.97,54.35 175.31,55.70 176.66,57.13 178.00,58.64 179.35,60.23 180.69,61.89 182.04,63.62 183.38,65.42 184.73,67.28 186.07,69.21 187.42,71.20 188.76,73.24 190.11,75.34 191.45,77.48 192.80,79.68 194.14,81.92 195.49,84.20 196.83,86.51 198.18,88.86 199.52,91.24 200.87,93.64 202.21,96.07 203.56,98.51 204.90,100.97 206.25,103.44 207.59,105.92 208.94,108.40 210.29,110.88 211.63,113.35 212.97,115.82 214.32,118.28 215.66,120.71 217.01,123.13 218.36,125.53 219.70,127.90 221.04,130.24 222.39,132.54 223.74,134.81 225.08,137.03 226.43,139.21 227.77,141.34 229.11,143.43 230.46,145.45 231.81,147.42 233.15,149.33 234.50,151.17 235.84,152.95 237.19,154.66 238.53,156.29 239.88,157.85 241.22,159.34 242.56,160.74 243.91,162.07 245.25,163.31 246.60,164.46 247.94,165.53 249.29,166.51 250.63,167.40 251.98,168.20 253.32,168.90 254.67,169.52 256.01,170.03 257.36,170.45 258.70,170.78 260.05,171.00 261.39,171.13 262.74,171.17 264.08,171.10 265.43,170.94 266.77,170.68 268.12,170.33 269.46,169.88 270.81,169.33 272.15,168.69 273.50,167.95" stroke="#ffbe00"/>
<polyline points="58.30,158.37 59.64,156.86 60.99,155.27 62.33,153.61 63.68,151.88 65.02,150.08 66.37,148.22 67.72,146.29 69.06,144.30 70.41,142.26 71.75,140.16 73.09,138.02 74.44,135.82 75.78,133.58 77.13,131.30 78.47,128.99 79.82,126.64 81.16,124.26 82.51,121.86 83.85,119.43 85.20,116.99 86.55,114.53 87.89,112.06 89.23,109.58 90.58,107.10 91.92,104.62 93.27,102.15 94.61,99.68 95.96,97.22 97.30,94.79 98.65,92.37 100.00,89.97 101.34,87.60 102.69,85.26 104.03,82.96 105.38,80.69 106.72,78.47 108.06,76.29 109.41,74.16 110.75,72.07 112.10,70.05 113.44,68.08 114.79,66.17 116.13,64.33 117.48,62.55 118.82,60.84 120.17,59.21 121.51,57.65 122.86,56.16 124.20,54.76 125.55,53.43 126.89,52.19 128.24,51.04 129.58,49.97 130.93,48.99 132.27,48.10 133.62,47.30 134.96,46.60 136.31,45.98 137.66,45.47 139.00,45.05 140.34,44.72 141.69,44.50 143.03,44.37 144.38,44.33 145.72,44.40 147.07,44.56 148.41,44.82 149.76,45.17 151.11,45.62 152.45,46.17 153.79,46.81 155.14,47.55 156.48,48.37 157.83,49.29 159.18,50.30 160.52,51.40 161.87,52.58 163.21,53.85 164.56,55.20 165.90,56.63 167.25,58.14 168.59,59.72 169.94,61.38 171.28,63.11 172.62,64.91 173.97,66.78 175.31,68.70 176.66,70.69 178.00,72.73 179.35,74.83 180.69,76.98 182.04,79.17 183.38,81.41 184.73,83.69 186.07,86.01 187.42,88.36 188.76,90.73 190.11,93.14 191.45,95.56 192.80,98.01 194.14,100.47 195.49,102.94 196.83,105.41 198.18,107.89 199.52,110.37 200.87,112.85 202.21,115.32 203.56,117.77 204.90,120.21 206.25,122.63 207.59,125.02 208.94,127.39 210.29,129.73 211.63,132.04 212.97,134.30 214.32,136.53 215.66,138.71 217.01,140.84 218.36,142.92 219.70,144.95 221.04,146.91 222.39,148.82 223.74,150.67 225.08,152.44 226.43,154.15 227.77,155.79 229.11,157.35 230.46,158.83 231.81,160.24 233.15,161.56 234.50,162.80 235.84,163.96 237.19,165.03 238.53,166.01 239.88,166.90 241.22,167.69 242.56,168.40 243.91,169.01 245.25,169.53 246.60,169.95 247.94,170.27 249.29,170.50 250.63,170.63 251.98,170.66 253.32,170.60 254.67,170.44 256.01,170.18 257.36,169.82 258.70,169.37 260.05,168.82 261.39,168.18 262.74,167.45 264.08,166.62 265.43,165.70 266.77,164.69 268.12,163.60 269.46,162.41 270.81,161.15 272.15,159.80 273.50,158.37" stroke="#ffb300"/>
<polyline points="58.30,143.57 59.64,141.53 60.99,139.43 62.33,137.28 63.68,135.09 65.02,132.85 66.37,130.57 67.72,128.25 69.06,125.91 70.41,123.53 71.75,121.12 73.09,118.70 74.44,116.25 75.78,113.79 77.13,111.32 78.47,108.85 79.82,106.37 81.16,103.89 82.51,101.41 83.85,98.95 85.20,96.49 86.55,94.05 87.89,91.63 89.23,89.24 90.58,86.87 91.92,84.53 93.27,82.23 94.61,79.96 95.96,77.73 97.30,75.55 98.65,73.42 100.00,71.34 101.34,69.32 102.69,67.35 104.03,65.44 105.38,63.60 106.72,61.82 108.06,60.11 109.41,58.48 110.75,56.91 112.10,55.43 113.44,54.02 114.79,52.70 116.13,51.46 117.48,50.30 118.82,49.24 120.17,48.26 121.51,47.37 122.86,46.57 124.20,45.86 125.55,45.25 126.89,44.74 128.24,44.31 129.58,43.99 130.93,43.76 132.27,43.63 133.62,43.60 134.96,43.66 136.31,43.83 137.66,44.08 139.00,44.44 140.34,44.89 141.69,45.44 143.03,46.08 144.38,46.81 145.72,47.64 147.07,48.56 148.41,49.57 149.76,50.66 151.11,51.85 152.45,53.11 153.79,54.46 155.14,55.90 156.48,57.41 157.83,58.99 159.18,60.65 160.52,62.38 161.87,64.18 163.21,66.04 164.56,67.97 165.90,69.96 167.25,72.00 168.59,74.10 169.94,76.25 171.28,78.44 172.62,80.68 173.97,82.96 175.31,85.27 176.66,87.62 178.00,90.00 179.35,92.40 180.69,94.83 182.04,97.28 183.38,99.73 184.73,102.20 186.07,104.68 187.42,107.16 188.76,109.64 190.11,112.12 191.45,114.58 192.80,117.04 194.14,119.48 195.49,121.90 196.83,124.29 198.18,126.66 199.52,129.00 200.87,131.30 202.21,133.57 203.56,135.79 204.90,137.97 206.25,140.11 207.59,142.19 208.94,144.21 210.29,146.18 211.63,148.09 212.97,149.93 214.32,151.71 215.66,153.42 217.01,155.05 218.36,156.62 219.70,158.10 221.04,159.51 222.39,160.83 223.74,162.07 225.08,163.23 226.43,164.29 227.77,165.27 229.11,166.16 230.46,166.96 231.81,167.67 233.15,168.28 234.50,168.79 235.84,169.21 237.19,169.54 238.53,169.77 239.88,169.90 241.22,169.93 242.56,169.87 243.91,169.70 245.25,169.45 246.60,169.09 247.94,168.64 249.29,168.09 250.63,167.45 251.98,166.72 253.32,165.89 254.67,164.97 256.01,163.96 257.36,162.87 258.70,161.68 260.05,160.41 261.39,159.06 262.74,157.63 264.08,156.12 265.43,154.54 266.77,152.88 268.12,151.15 269.46,149.35 270.81,147.49 272.15,145.56 273.50,143.57" stroke="#ffa200"/>
<polyline points="58.30,120.88 59.64,118.50 60.99,116.10 62.33,113.67 63.68,111.23 65.02,108.77 66.37,106.30 67.72,103.82 69.06,101.34 70.41,98.86 71.75,96.38 73.09,93.92 74.44,91.46 75.78,89.02 77.13,86.60 78.47,84.21 79.82,81.84 81.16,79.50 82.51,77.20 83.85,74.93 85.20,72.71 86.55,70.53 87.89,68.39 89.23,66.31 90.58,64.29 91.92,62.32 93.27,60.41 94.61,58.57 95.96,56.79 97.30,55.08 98.65,53.45 100.00,51.89 101.34,50.40 102.69,49.00 104.03,47.67 105.38,46.43 106.72,45.28 108.06,44.21 109.41,43.23 110.75,42.34 112.10,41.54 113.44,40.83 114.79,40.22 116.13,39.71 117.48,39.29 118.82,38.96 120.17,38.73 121.51,38.60 122.86,38.57 124.20,38.64 125.55,38.80 126.89,39.06 128.24,39.41 129.58,39.86 130.93,40.41 132.27,41.05 133.62,41.79 134.96,42.61 136.31,43.53 137.66,44.54 139.00,45.64 140.34,46.82 141.69,48.09 143.03,49.44 144.38,50.87 145.72,52.38 147.07,53.96 148.41,55.62 149.76,57.35 151.11,59.15 152.45,61.02 153.79,62.94 155.14,64.93 156.48,66.97 157.83,69.07 159.18,71.22 160.52,73.41 161.87,75.65 163.21,77.93 164.56,80.25 165.90,82.59 167.25,84.97 168.59,87.38 169.94,89.80 171.28,92.25 172.62,94.71 173.97,97.18 175.31,99.65 176.66,102.13 178.00,104.61 179.35,107.09 180.69,109.55 182.04,112.01 183.38,114.45 184.73,116.87 186.07,119.26 187.42,121.63 188.76,123.97 190.11,126.28 191.45,128.54 192.80,130.77 194.14,132.95 195.49,135.08 196.83,137.16 198.18,139.19 199.52,141.15 200.87,143.06 202.21,144.90 203.56,146.68 204.90,148.39 206.25,150.03 207.59,151.59 208.94,153.07 210.29,154.48 211.63,155.80 212.97,157.04 214.32,158.20 215.66,159.27 217.01,160.25 218.36,161.14 219.70,161.93 221.04,162.64 222.39,163.25 223.74,163.77 225.08,164.19 226.43,164.51 227.77,164.74 229.11,164.87 230.46,164.90 231.81,164.84 233.15,164.68 234.50,164.42 235.84,164.06 237.19,163.61 238.53,163.06 239.88,162.42 241.22,161.69 242.56,160.86 243.91,159.94 245.25,158.93 246.60,157.84 247.94,156.65 249.29,155.39 250.63,154.04 251.98,152.61 253.32,151.10 254.67,149.51 256.01,147.85 257.36,146.12 258.70,144.32 260.05,142.46 261.39,140.53 262.74,138.54 264.08,136.50 265.43,134.40 266.77,132.25 268.12,130.06 269.46,127.82 270.81,125.54 272.15,123.23 273.50,120.88" stroke="#ff3100"/>
<polyline points="58.30,94.97 59.64,92.49 60.99,90.02 62.33,87.55 63.68,85.10 65.02,82.66 66.37,80.24 67.72,77.84 69.06,75.47 70.41,73.13 71.75,70.83 73.09,68.56 74.44,66.34 75.78,64.16 77.13,62.03 78.47,59.95 79.82,57.92 81.16,55.95 82.51,54.04 83.85,52.20 85.20,50.42 86.55,48.72 87.89,47.08 89.23,45.52 90.58,44.03 91.92,42.63 93.27,41.30 94.61,40.06 95.96,38.91 97.30,37.84 98.65,36.86 100.00,35.97 101.34,35.17 102.69,34.47 104.03,33.86 105.38,33.34 106.72,32.92 108.06,32.60 109.41,32.37 110.75,32.24 112.10,32.20 113.44,32.27 114.79,32.43 116.13,32.69 117.48,33.04 118.82,33.50 120.17,34.04 121.51,34.68 122.86,35.42 124.20,36.25 125.55,37.16 126.89,38.17 128.24,39.27 129.58,40.45 130.93,41.72 132.27,43.07 133.62,44.50 134.96,46.01 136.31,47.60 137.66,49.25 139.00,50.99 140.34,52.78 141.69,54.65 143.03,56.58 144.38,58.56 145.72,60.61 147.07,62.70 148.41,64.85 149.76,67.05 151.11,69.28 152.45,71.56 153.79,73.88 155.14,76.23 156.48,78.61 157.83,81.01 159.18,83.44 160.52,85.88 161.87,88.34 163.21,90.81 164.56,93.29 165.90,95.77 167.25,98.25 168.59,100.72 169.94,103.19 171.28,105.64 172.62,108.08 173.97,110.50 175.31,112.90 176.66,115.27 178.00,117.60 179.35,119.91 180.69,122.17 182.04,124.40 183.38,126.58 184.73,128.71 186.07,130.79 187.42,132.82 188.76,134.79 190.11,136.69 191.45,138.54 192.80,140.31 194.14,142.02 195.49,143.66 196.83,145.22 198.18,146.70 199.52,148.11 200.87,149.43 202.21,150.67 203.56,151.83 204.90,152.90 206.25,153.88 207.59,154.77 208.94,155.57 210.29,156.27 211.63,156.88 212.97,157.40 214.32,157.82 215.66,158.14 217.01,158.37 218.36,158.50 219.70,158.53 221.04,158.47 222.39,158.31 223.74,158.05 225.08,157.69 226.43,157.24 227.77,156.70 229.11,156.06 230.46,155.32 231.81,154.49 233.15,153.57 234.50,152.57 235.84,151.47 237.19,150.29 238.53,149.02 239.88,147.67 241.22,146.24 242.56,144.73 243.91,143.14 245.25,141.48 246.60,139.75 247.94,137.95 249.29,136.09 250.63,134.16 251.98,132.18 253.32,130.13 254.67,128.03 256.01,125.89 257.36,123.69 258.70,121.45 260.05,119.18 261.39,116.86 262.74,114.51 264.08,112.13 265.43,109.73 266.77,107.30 268.12,104.86 269.46,102.40 270.81,99.93 272.15,97.45 273.50,94.97" stroke="#a20000"/>
</g></g>

<g class="t" text-anchor="end">
<text x="18.38" y="19.80" text-anchor="start"> 500</text><path d="M515,0 L515,1237 L197,1010 L197,1180 L530,1409 L696,1409 L696,0 Z" transform="translate(18.38,19.80) scale(0.008301,-0.008301)" fill="#000" stroke="#000" stroke-width="42"/>
<text x="18.38" y="83.10" text-anchor="start"> 000</text><path d="M515,0 L515,1237 L197,1010 L197,1180 L530,1409 L696,1409 L696,0 Z" transform="translate(18.38,83.10) scale(0.008301,-0.008301)" fill="#000" stroke="#000" stroke-width="42"/>
<text x="28.04" y="146.20" text-anchor="start">500</text>
<text x="46.55" y="209.30" text-anchor="start">0</text>
</g>
<g class="t" text-anchor="middle">
<text x="53.97" y="220.60" text-anchor="start">0</text>
<text x="89.48" y="220.60" text-anchor="start">0.2</text>
<text x="132.58" y="220.60" text-anchor="start">0.4</text>
<text x="175.68" y="220.60" text-anchor="start">0.6</text>
<text x="218.68" y="220.60" text-anchor="start">0.8</text>
<text x="267.97" y="220.60" text-anchor="start"> </text><path d="M515,0 L515,1237 L197,1010 L197,1180 L530,1409 L696,1409 L696,0 Z" transform="translate(267.97,220.60) scale(0.008301,-0.008301)" fill="#000" stroke="#000" stroke-width="42"/>
<text x="164.3" y="232.9">x</text>
</g>
<text class="t" text-anchor="middle" transform="translate(12.7,107.4) rotate(-90)">y</text>
<!-- colorbar -->
<rect x="283.7" y="13" width="13" height="190.5" fill="url(#jet)"/>
<rect x="284" y="13.3" width="12.4" height="189.9" fill="none" stroke="#000" stroke-opacity="0.22" stroke-width="0.7"/>
<g class="t">
<text x="298.80" y="51.20" text-anchor="start"> 50</text><path d="M515,0 L515,1237 L197,1010 L197,1180 L530,1409 L696,1409 L696,0 Z" transform="translate(298.80,51.20) scale(0.008301,-0.008301)" fill="#000" stroke="#000" stroke-width="42"/>
<text x="298.80" y="104.70" text-anchor="start"> 00</text><path d="M515,0 L515,1237 L197,1010 L197,1180 L530,1409 L696,1409 L696,0 Z" transform="translate(298.80,104.70) scale(0.008301,-0.008301)" fill="#000" stroke="#000" stroke-width="42"/>
<text x="298.80" y="157.00" text-anchor="start">50</text>
<text x="298.80" y="210.00" text-anchor="start">0</text>
</g>
<text class="t" text-anchor="middle" style="font-size:17.3px" transform="translate(343.2,111.8) rotate(-90)">Age: month(s)</text>
<!-- right plot -->
<rect x="464.33" y="138.65" width="3.24" height="59.35" fill="#b4b4f0"/>
<rect x="503.62" y="138.65" width="3.70" height="59.35" fill="#b4b4f0"/>
<rect x="402.52" y="138.65" width="1.20" height="59.35" fill="#18187a"/>
<rect x="407.70" y="138.65" width="1.20" height="59.35" fill="#18187a"/>
<rect x="412.14" y="138.65" width="1.20" height="59.35" fill="#18187a"/>
<rect x="423.42" y="138.65" width="1.20" height="59.35" fill="#18187a"/>
<rect x="425.91" y="138.65" width="1.20" height="59.35" fill="#18187a"/>
<rect x="448.01" y="138.65" width="1.20" height="59.35" fill="#18187a"/>
<rect x="449.40" y="138.65" width="1.20" height="59.35" fill="#18187a"/>
<rect x="450.78" y="138.65" width="1.20" height="59.35" fill="#18187a"/>
<rect x="463.73" y="138.65" width="1.20" height="59.35" fill="#18187a"/>
<rect x="466.96" y="138.65" width="1.20" height="59.35" fill="#18187a"/>
<rect x="475.37" y="138.65" width="1.20" height="59.35" fill="#18187a"/>
<rect x="485.73" y="138.65" width="1.20" height="59.35" fill="#18187a"/>
<rect x="497.10" y="138.65" width="1.20" height="59.35" fill="#18187a"/>
<rect x="503.02" y="138.65" width="1.20" height="59.35" fill="#18187a"/>
<rect x="506.72" y="138.65" width="1.20" height="59.35" fill="#18187a"/>
<rect x="511.34" y="138.65" width="1.20" height="59.35" fill="#18187a"/>
<rect x="513.19" y="138.65" width="1.20" height="59.35" fill="#18187a"/>
<rect x="515.87" y="138.65" width="1.20" height="59.35" fill="#18187a"/>
<rect x="534.27" y="138.65" width="1.20" height="59.35" fill="#18187a"/>
<rect x="557.56" y="138.65" width="1.20" height="59.35" fill="#18187a"/>
<g stroke="#909090" stroke-width="1" fill="none">
<rect x="397.5" y="79.5" width="185" height="119"/>
<path d="M443.5,198.5 v-1.8 M489.75,198.5 v-1.8 M536,198.5 v-1.8 M443.5,79.5 v1.8 M489.75,79.5 v1.8 M536,79.5 v1.8 M397.5,138.65 h1.8 M582.5,138.65 h-1.8"/>
</g>
<g class="t" text-anchor="end">
<text x="385.55" y="85.30" text-anchor="start">2</text>
<text x="385.55" y="144.80" text-anchor="start"> </text><path d="M515,0 L515,1237 L197,1010 L197,1180 L530,1409 L696,1409 L696,0 Z" transform="translate(385.55,144.80) scale(0.008301,-0.008301)" fill="#000" stroke="#000" stroke-width="42"/>
<text x="385.55" y="204.60" text-anchor="start">0</text>
</g>
<g class="t" text-anchor="middle">
<text x="392.87" y="216.30" text-anchor="start">0</text>
<text x="434.05" y="216.30" text-anchor="start">50</text>
<text x="475.72" y="216.30" text-anchor="start"> 00</text><path d="M515,0 L515,1237 L197,1010 L197,1180 L530,1409 L696,1409 L696,0 Z" transform="translate(475.72,216.30) scale(0.008301,-0.008301)" fill="#000" stroke="#000" stroke-width="42"/>
<text x="522.02" y="216.30" text-anchor="start"> 50</text><path d="M515,0 L515,1237 L197,1010 L197,1180 L530,1409 L696,1409 L696,0 Z" transform="translate(522.02,216.30) scale(0.008301,-0.008301)" fill="#000" stroke="#000" stroke-width="42"/>
<text x="568.32" y="216.30" text-anchor="start">200</text>
<text x="490.1" y="231.6">Age: month(s)</text>
</g>
<!-- captions -->
<text class="cap" x="112.8" y="265.7" textLength="128" lengthAdjust="spacingAndGlyphs">(a) Observations</text>
<text class="cap" x="417.2" y="265.7" textLength="142.6" lengthAdjust="spacingAndGlyphs">(b) Age histogram</text>
</svg>
</body></html>
